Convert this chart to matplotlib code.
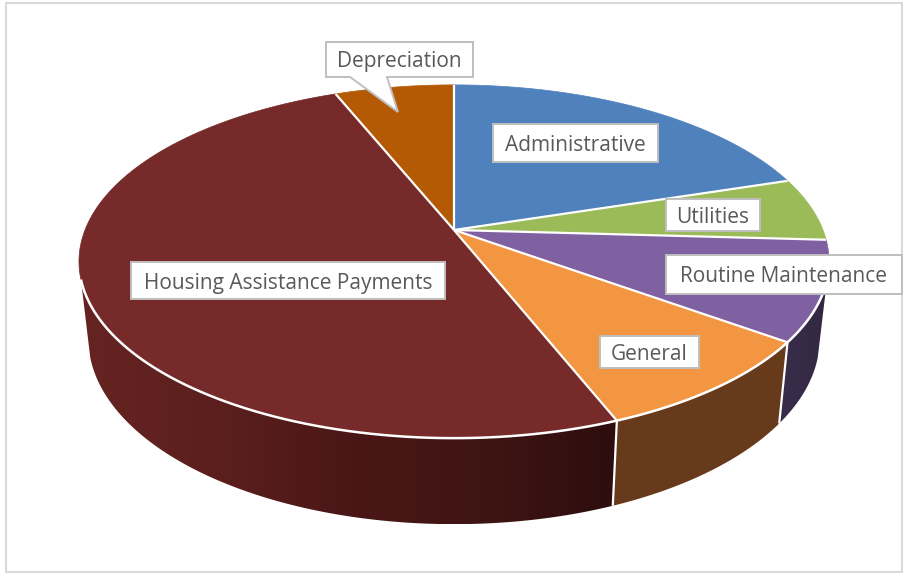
import numpy as np
import matplotlib
matplotlib.use("Agg")
import matplotlib.pyplot as plt
from matplotlib.colors import LinearSegmentedColormap
from matplotlib.patches import Polygon, Rectangle

# Share of operating expenses, clockwise from twelve o'clock
categories = ["Administrative", "Utilities", "Routine Maintenance", "General",
              "Housing Assistance Payments", "Depreciation"]
shares = [20.1, 5.8, 9.1, 9.0, 49.9, 6.1]

top_colors = ["#4f81bd", "#9bbb59", "#7f60a0", "#f39642", "#772a2a", "#b45a05"]
wall_ramps = [
    ["#2c4a6e", "#2c4a6e"],
    ["#5a6e33", "#5a6e33"],
    ["#3a2d4c", "#332840"],
    ["#673b1b", "#663a1b"],
    ["#652422", "#5c1f1e", "#4a1716", "#3f1513", "#2e0d0e"],
    ["#6b3503", "#6b3503"],
]

W, H = 904, 573
CX, CY, RX, RY, PERSP = 454, 230, 369, 171, 0.1785
BASE_CY, BASE_SX, BASE_SY = 305.6, 0.975, 1.05
# Arc of the rim, in radians clockwise from the top, whose wall faces the viewer
FRONT_LO, FRONT_HI = np.radians(106), np.radians(254)


def top_rim(theta):
    u, v = np.sin(theta), -np.cos(theta)
    w = 1 - PERSP * v
    return CX + RX * u / w, CY + RY * v / w


def base_rim(theta):
    x, y = top_rim(theta)
    return CX + BASE_SX * (x - CX), BASE_CY + BASE_SY * (y - CY)


fig = plt.figure(figsize=(W / 100, H / 100), dpi=100)
ax = fig.add_axes([0, 0, 1, 1])
ax.set_xlim(0, W)
ax.set_ylim(H, 0)
ax.axis("off")

ax.add_patch(Rectangle((6, 3), 896, 569, fc="white", ec="#d9d9d9", lw=1.5, zorder=0))

edges = np.radians(np.concatenate([[0], np.cumsum(shares)]) / sum(shares) * 360)

# Side walls: a horizontal colour ramp clipped to each slice's outer wall
for i in range(len(shares)):
    lo, hi = max(edges[i], FRONT_LO), min(edges[i + 1], FRONT_HI)
    if hi <= lo:
        continue
    th = np.linspace(lo, hi, 200)
    xt, yt = top_rim(th)
    xb, yb = base_rim(th)
    outline = np.column_stack([np.r_[xt, xb[::-1]], np.r_[yt, yb[::-1]]])
    wall = Polygon(outline, closed=True, fc="none", ec="none", transform=ax.transData)
    ax.add_patch(wall)
    cmap = LinearSegmentedColormap.from_list(f"wall{i}", wall_ramps[i])
    img = ax.imshow(np.linspace(0, 1, 256)[None, :], cmap=cmap, vmin=0, vmax=1,
                    extent=(outline[:, 0].min(), outline[:, 0].max(),
                            outline[:, 1].max(), outline[:, 1].min()),
                    aspect="auto", zorder=1, interpolation="bilinear")
    img.set_clip_path(wall)
ax.set_xlim(0, W)
ax.set_ylim(H, 0)

# Dividers on the front of the wall
for e in edges:
    if FRONT_LO < e < FRONT_HI:
        xt, yt = top_rim(e)
        xb, yb = base_rim(e)
        ax.plot([xt, xb], [yt, yb], color="white", lw=1.6, zorder=2,
                solid_capstyle="butt")

# Top face slices
for i in range(len(shares)):
    th = np.linspace(edges[i], edges[i + 1], 200)
    xt, yt = top_rim(th)
    pts = np.column_stack([np.r_[CX, xt], np.r_[CY, yt]])
    ax.add_patch(Polygon(pts, closed=True, fc=top_colors[i], ec=top_colors[i], lw=0.5,
                         zorder=3))

# White spokes between slices
for e in edges[:-1]:
    xt, yt = top_rim(e)
    ax.plot([CX, xt], [CY, yt], color="white", lw=1.6, zorder=4, solid_capstyle="butt")

# White rim where the top face meets the visible wall
th = np.linspace(FRONT_LO, FRONT_HI, 300)
xt, yt = top_rim(th)
ax.plot(xt, yt, color="white", lw=1.8, zorder=4, solid_capstyle="butt")

# Data labels
label_boxes = {
    "Administrative": (493, 124, 658, 162),
    "Utilities": (666, 199, 760, 231),
    "Routine Maintenance": (666, 255, 902, 294),
    "General": (600, 336, 699, 368),
    "Housing Assistance Payments": (131, 262, 445, 299),
}
BOX_EC, TXT = "#bfbfbf", "#595959"
FS = 15.0
for name, (x0, y0, x1, y1) in label_boxes.items():
    ax.add_patch(Rectangle((x0, y0), x1 - x0, y1 - y0, fc="white", ec=BOX_EC, lw=1.4, zorder=5))
    ax.text((x0 + x1) / 2, (y0 + y1) / 2, name, ha="center", va="center_baseline",
            fontsize=FS, color=TXT, family="Open Sans", zorder=6)

# Callout for the thin slice at the back
call = [(326, 42), (473, 42), (473, 77), (387, 77), (398, 112), (350, 77), (326, 77)]
ax.add_patch(Polygon(call, closed=True, fc="white", ec=BOX_EC, lw=1.4, zorder=5))
ax.text(399, 59.5, "Depreciation", ha="center", va="center_baseline",
        fontsize=FS, color=TXT, family="Open Sans", zorder=6)

fig.savefig("out.png", dpi=100)
